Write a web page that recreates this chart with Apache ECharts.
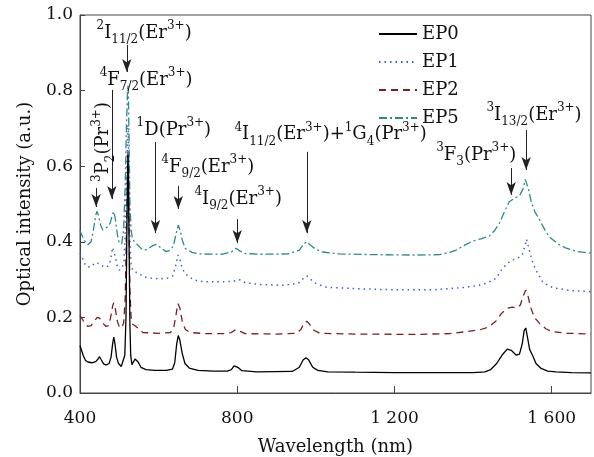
<!DOCTYPE html>
<html>
<head>
<meta charset="utf-8">
<script src="https://cdn.jsdelivr.net/npm/echarts@6/dist/echarts.min.js"></script>
<style>
  html, body { margin: 0; padding: 0; background: #fff; }
  #chart { width: 594px; height: 457px; }
</style>
</head>
<body>
<div id="chart"></div>
<script>
// Axis ranges and ticks
const wavelengthRange = [400, 1700];
const wavelengthStep = 400;
const intensityRange = [0, 1.0];
const intensityStep = 0.2;

// Sample names
const sampleNames = ['EP0', 'EP1', 'EP2', 'EP5'];

// Spectra: [wavelength (nm), optical intensity (a.u.)]
const ep0 = [
  [400, 0.125], [403, 0.122], [408, 0.1], [414, 0.086], [420, 0.082], [430, 0.08], [440, 0.083],
  [446, 0.09], [450, 0.096], [454, 0.088], [460, 0.077], [467, 0.074], [474, 0.078], [479, 0.095],
  [483, 0.13], [486, 0.148], [489, 0.13], [493, 0.095], [498, 0.078], [505, 0.07], [510, 0.075],
  [514, 0.1], [517, 0.2], [519, 0.4], [521, 0.58], [522, 0.63], [523, 0.58], [525, 0.38],
  [527, 0.18], [529, 0.1], [532, 0.075], [536, 0.078], [540, 0.09], [544, 0.093], [548, 0.082],
  [555, 0.068], [568, 0.062], [590, 0.06], [620, 0.06], [635, 0.063], [641, 0.08], [646, 0.13],
  [650, 0.152], [654, 0.14], [660, 0.105], [667, 0.078], [678, 0.066], [700, 0.06], [740, 0.058],
  [775, 0.058], [785, 0.062], [792, 0.072], [797, 0.074], [803, 0.067], [812, 0.059], [850, 0.056],
  [940, 0.057], [958, 0.068], [968, 0.088], [975, 0.093], [982, 0.087], [992, 0.068], [1005, 0.06],
  [1030, 0.056], [1100, 0.055], [1200, 0.054], [1300, 0.054], [1400, 0.054], [1430, 0.056],
  [1445, 0.062], [1460, 0.078], [1475, 0.102], [1487, 0.116], [1497, 0.113], [1510, 0.1],
  [1518, 0.103], [1525, 0.13], [1530, 0.165], [1534, 0.172], [1538, 0.15], [1544, 0.115],
  [1552, 0.098], [1560, 0.078], [1573, 0.065], [1590, 0.058], [1611, 0.056], [1650, 0.054], [1700, 0.053]
];
const ep1 = [
  [400, 0.37], [405, 0.36], [412, 0.342], [420, 0.333], [430, 0.335], [438, 0.345], [443, 0.348],
  [450, 0.342], [460, 0.334], [467, 0.333], [474, 0.338], [479, 0.36], [483, 0.385], [486, 0.382],
  [490, 0.36], [495, 0.335], [500, 0.325], [507, 0.33], [512, 0.35], [515, 0.42], [518, 0.56],
  [521, 0.68], [522, 0.71], [523, 0.68], [525, 0.52], [527, 0.4], [530, 0.34], [534, 0.325],
  [540, 0.32], [548, 0.318], [560, 0.308], [580, 0.304], [602, 0.302], [625, 0.304], [636, 0.31],
  [643, 0.335], [649, 0.365], [654, 0.355], [660, 0.33], [668, 0.315], [685, 0.302], [704, 0.295],
  [750, 0.294], [790, 0.295], [800, 0.3], [808, 0.299], [820, 0.292], [856, 0.287], [920, 0.285],
  [955, 0.29], [968, 0.303], [977, 0.31], [985, 0.302], [1000, 0.29], [1026, 0.28], [1100, 0.276],
  [1200, 0.273], [1300, 0.273], [1374, 0.279], [1410, 0.284], [1433, 0.29], [1458, 0.303],
  [1475, 0.33], [1490, 0.345], [1501, 0.352], [1515, 0.358], [1525, 0.365], [1532, 0.39],
  [1536, 0.407], [1540, 0.39], [1545, 0.37], [1552, 0.345], [1560, 0.325], [1577, 0.294],
  [1595, 0.282], [1611, 0.277], [1650, 0.271], [1700, 0.268]
];
const ep2 = [
  [400, 0.205], [405, 0.2], [412, 0.185], [420, 0.176], [428, 0.178], [436, 0.19], [444, 0.2],
  [450, 0.198], [458, 0.185], [466, 0.176], [472, 0.178], [478, 0.2], [483, 0.23], [486, 0.239],
  [490, 0.222], [495, 0.19], [500, 0.175], [506, 0.172], [511, 0.185], [515, 0.25], [518, 0.42],
  [521, 0.6], [522, 0.64], [523, 0.6], [525, 0.42], [527, 0.27], [530, 0.2], [534, 0.182],
  [540, 0.178], [545, 0.18], [551, 0.168], [560, 0.16], [600, 0.158], [630, 0.16], [638, 0.17],
  [644, 0.205], [649, 0.237], [654, 0.225], [660, 0.19], [668, 0.168], [680, 0.16], [720, 0.157],
  [770, 0.157], [785, 0.16], [795, 0.167], [800, 0.168], [808, 0.163], [820, 0.157], [900, 0.156],
  [950, 0.158], [962, 0.168], [970, 0.185], [977, 0.19], [984, 0.182], [995, 0.166], [1010, 0.158],
  [1100, 0.156], [1250, 0.155], [1340, 0.157], [1380, 0.162], [1420, 0.168], [1440, 0.175],
  [1458, 0.19], [1472, 0.21], [1486, 0.224], [1500, 0.227], [1512, 0.225], [1520, 0.232],
  [1528, 0.258], [1534, 0.272], [1539, 0.26], [1546, 0.228], [1556, 0.2], [1569, 0.184],
  [1585, 0.17], [1602, 0.162], [1640, 0.158], [1700, 0.156]
];
const ep5 = [
  [400, 0.43], [403, 0.422], [410, 0.405], [420, 0.392], [428, 0.4], [434, 0.43], [440, 0.47],
  [443, 0.48], [447, 0.47], [452, 0.445], [458, 0.431], [465, 0.436], [471, 0.44], [477, 0.45],
  [482, 0.47], [486, 0.48], [490, 0.46], [495, 0.42], [500, 0.396], [506, 0.395], [511, 0.43],
  [515, 0.55], [518, 0.7], [521, 0.8], [522, 0.815], [523, 0.8], [525, 0.65], [527, 0.5],
  [530, 0.43], [534, 0.405], [540, 0.4], [548, 0.39], [560, 0.378], [572, 0.38], [585, 0.39],
  [594, 0.393], [605, 0.385], [619, 0.374], [630, 0.378], [638, 0.39], [644, 0.42], [650, 0.444],
  [655, 0.43], [660, 0.405], [668, 0.382], [685, 0.372], [704, 0.368], [760, 0.367], [785, 0.373],
  [797, 0.383], [806, 0.376], [820, 0.369], [856, 0.367], [930, 0.368], [958, 0.378], [970, 0.395],
  [977, 0.4], [985, 0.392], [1000, 0.38], [1018, 0.373], [1060, 0.368], [1150, 0.366],
  [1250, 0.365], [1314, 0.366], [1340, 0.372], [1357, 0.378], [1380, 0.392], [1399, 0.402],
  [1420, 0.408], [1441, 0.415], [1455, 0.43], [1467, 0.449], [1480, 0.48], [1492, 0.506],
  [1505, 0.515], [1518, 0.522], [1527, 0.54], [1533, 0.565], [1537, 0.56], [1542, 0.535],
  [1547, 0.51], [1557, 0.48], [1569, 0.458], [1582, 0.433], [1594, 0.413], [1615, 0.395],
  [1637, 0.383], [1665, 0.374], [1700, 0.37]
];

// Transition arrows: [wavelength, tail intensity, head intensity]
const arrows = [
  [441, 0.542, 0.492],
  [481, 0.802, 0.513],
  [519, 0.921, 0.849],
  [592, 0.664, 0.423],
  [650, 0.548, 0.487],
  [800, 0.460, 0.397],
  [977, 0.638, 0.423],
  [1497, 0.595, 0.524],
  [1535, 0.696, 0.590]
];

// Transition labels (rich text), anchored at [wavelength, intensity] of their left/middle
const transitionLabels = [
  { text: '{s|2}{m|I}{b|11/2}{m|(Er}{s|3+}{m|)}', at: [442, 0.952] },
  { text: '{s|4}{m|F}{b|7/2}{m|(Er}{s|3+}{m|)}', at: [450, 0.828] },
  { text: '{s|1}{m|D(Pr}{s|3+}{m|)}', at: [544, 0.696] },
  { text: '{s|4}{m|F}{b|9/2}{m|(Er}{s|3+}{m|)}', at: [607, 0.598] },
  { text: '{s|4}{m|I}{b|9/2}{m|(Er}{s|3+}{m|)}', at: [691, 0.513] },
  { text: '{s|4}{m|I}{b|11/2}{m|(Er}{s|3+}{m|)+}{s|1}{m|G}{b|4}{m|(Pr}{s|3+}{m|)}', at: [793, 0.683] },
  { text: '{s|3}{m|F}{b|3}{m|(Pr}{s|3+}{m|)}', at: [1306, 0.63] },
  { text: '{s|3}{m|I}{b|13/2}{m|(Er}{s|3+}{m|)}', at: [1434, 0.735] },
  { text: '{s|3}{m|P}{b|2}{m|(Pr}{s|3+}{m|)}', at: [460, 0.664], vertical: true }
];

const FONT = '"DejaVu Serif", "Liberation Serif", serif';
const AXIS_COLOR = '#444';
const TEXT_COLOR = '#111';

const lineStyles = {
  EP0: { color: '#000000', type: 'solid', width: 1.3 },
  EP1: { color: '#3a62c4', type: [1.5, 4], width: 1.5 },
  EP2: { color: '#7a1e22', type: [7, 5], width: 1.3 },
  EP5: { color: '#2a8a8a', type: [8, 3, 2, 3], width: 1.3 }
};
const spectra = { EP0: ep0, EP1: ep1, EP2: ep2, EP5: ep5 };

const richStyles = {
  m: { fontFamily: FONT, fontSize: 18, lineHeight: 26, color: TEXT_COLOR },
  s: { fontFamily: FONT, fontSize: 12, lineHeight: 13, verticalAlign: 'top', color: TEXT_COLOR },
  b: { fontFamily: FONT, fontSize: 12, lineHeight: 13, verticalAlign: 'bottom', color: TEXT_COLOR }
};

const chart = echarts.init(document.getElementById('chart'), null, { renderer: 'canvas' });

const series = sampleNames.map((name, i) => {
  const s = {
    name: name,
    type: 'line',
    data: spectra[name],
    symbol: 'none',
    showSymbol: false,
    smooth: false,
    animation: false,
    z: 10 - i,
    lineStyle: lineStyles[name],
    itemStyle: { color: lineStyles[name].color },
    emphasis: { disabled: true }
  };
  if (i === 0) {
    s.markLine = {
      silent: true,
      animation: false,
      symbol: ['none', 'arrow'],
      symbolSize: [7, 13],
      label: { show: false },
      emphasis: { disabled: true },
      lineStyle: { color: '#222', type: 'solid', width: 1 },
      data: arrows.map(a => [{ coord: [a[0], a[1]] }, { coord: [a[0], a[2]] }])
    };
  }
  return s;
});

chart.setOption({
  animation: false,
  backgroundColor: '#fff',
  textStyle: { fontFamily: FONT },
  grid: {
    left: 80, right: 3, top: 15, bottom: 64,
    outerBoundsMode: 'none',
    containLabel: false,
    show: true, borderColor: AXIS_COLOR, borderWidth: 1, backgroundColor: 'transparent'
  },
  legend: {
    data: sampleNames,
    orient: 'vertical',
    left: 378, top: 25,
    padding: 0,
    itemWidth: 38, itemHeight: 14, itemGap: 10,
    // line-only keys: hide the marker drawn at the middle of each key
    itemStyle: { color: 'rgba(0,0,0,0)', borderColor: 'rgba(0,0,0,0)', borderWidth: 0, opacity: 0 },
    textStyle: { fontFamily: FONT, fontSize: 18, color: TEXT_COLOR },
    selectedMode: false
  },
  xAxis: {
    type: 'value',
    min: wavelengthRange[0], max: wavelengthRange[1], interval: wavelengthStep,
    name: 'Wavelength (nm)', nameLocation: 'middle', nameGap: 45,
    nameTextStyle: { fontFamily: FONT, fontSize: 18, color: TEXT_COLOR },
    axisLine: { lineStyle: { color: AXIS_COLOR, width: 1 } },
    axisTick: { inside: true, length: 7, lineStyle: { color: AXIS_COLOR } },
    axisLabel: {
      fontFamily: FONT, fontSize: 17, color: TEXT_COLOR, margin: 17,
      showMaxLabel: false,
      formatter: v => v >= 1000 ? String(v).replace(/(\d)(\d{3})$/, '$1 $2') : String(v)
    },
    splitLine: { show: false }
  },
  yAxis: {
    type: 'value',
    min: intensityRange[0], max: intensityRange[1], interval: intensityStep,
    name: 'Optical intensity (a.u.)', nameLocation: 'middle', nameGap: 46,
    nameTextStyle: { fontFamily: FONT, fontSize: 18, color: TEXT_COLOR },
    axisLine: { lineStyle: { color: AXIS_COLOR, width: 1 } },
    axisTick: { inside: true, length: 5, lineStyle: { color: AXIS_COLOR } },
    axisLabel: {
      fontFamily: FONT, fontSize: 17, color: TEXT_COLOR, margin: 7,
      formatter: v => v.toFixed(1)
    },
    splitLine: { show: false }
  },
  series: series
});

// Place transition labels through the chart's own coordinate conversion
const graphics = transitionLabels.map(l => {
  const p = chart.convertToPixel({ gridIndex: 0 }, l.at);
  return {
    type: 'text',
    x: p[0], y: p[1],
    rotation: l.vertical ? Math.PI / 2 : 0,
    silent: true,
    z: 100,
    style: {
      text: l.text,
      rich: richStyles,
      align: l.vertical ? 'center' : 'left',
      verticalAlign: 'middle',
      fill: TEXT_COLOR
    }
  };
});
chart.setOption({ graphic: graphics });
</script>
</body>
</html>
